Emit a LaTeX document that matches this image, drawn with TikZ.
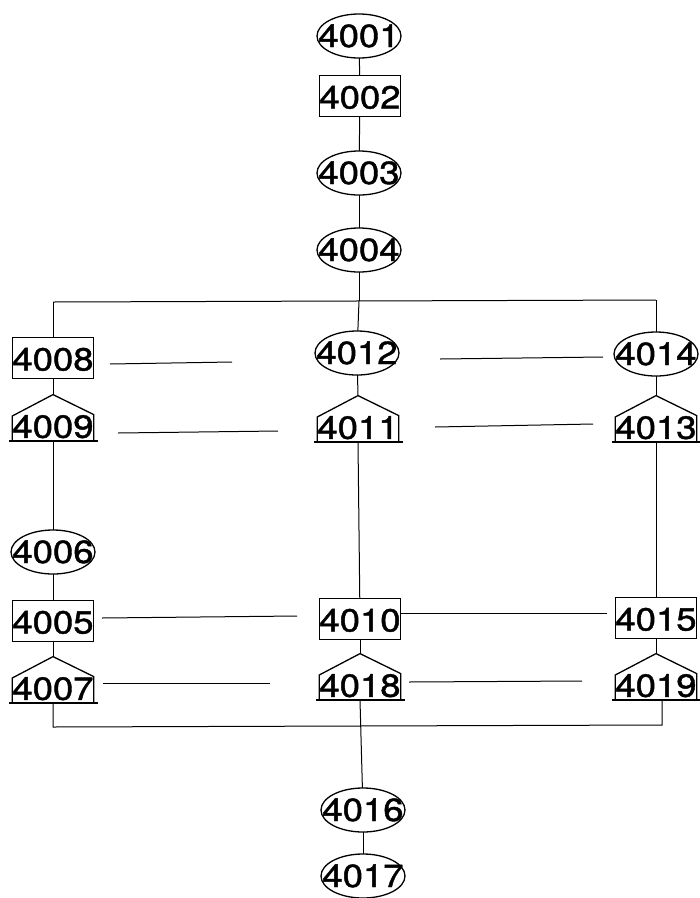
\documentclass[tikz,border=0pt]{standalone}
\usepackage{fontspec}
\setmainfont{TeX Gyre Heros}[FakeStretch=1.14,FakeBold=1.3]
\usetikzlibrary{calc}
\tikzset{
  every node/.style={font=\fontsize{32}{32}\selectfont, inner sep=0pt},
  ell/.style={rectangle, minimum width=84pt, text height=33pt, text depth=11pt},
  boxn/.style={draw, rectangle, line width=1.3pt, minimum width=81pt, text height=33pt, text depth=8pt},
  house/.style={rectangle, anchor=south, minimum width=81pt, text height=43pt, text depth=3pt},
  wire/.style={line width=1pt},
  outline/.style={line width=1.3pt},
}
\newcommand{\houseoutline}[1]{%
  \draw[outline] (#1.south west) -- ++(0pt,25pt) -- (#1.north) -- ($(#1.north east)+(0pt,-20pt)$) -- (#1.south east);
  \draw[outline] ($(#1.south west)+(-3pt,0pt)$) -- ($(#1.south east)+(4pt,0pt)$);
}
\newcommand{\ellipseoutline}[1]{%
  \draw[outline] (#1.center) ellipse [x radius=42pt, y radius=22pt];
}
\begin{document}
\begin{tikzpicture}[x=1pt,y=-1pt]
\useasboundingbox (0,0) rectangle (700,898);
% top chain
\node[ell] (n4001) at (359,36) {4001};
\node[boxn] (n4002) at (360,96) {4002};
\node[ell] (n4003) at (359,173) {4003};
\node[ell] (n4004) at (359,250) {4004};
% upper row
\node[boxn] (n4008) at (53,358) {4008};
\node[ell] (n4012) at (357,353) {4012};
\node[ell] (n4014) at (656,354) {4014};
\node[house] (n4009) at (53,441) {4009};
\node[house] (n4011) at (358,442) {4011};
\node[house] (n4013) at (656,442) {4013};
% middle
\node[ell] (n4006) at (53,552) {4006};
\node[boxn] (n4005) at (53,621) {4005};
\node[boxn] (n4010) at (360,619) {4010};
\node[boxn] (n4015) at (656,618) {4015};
\node[house] (n4007) at (53,703) {4007};
\node[house] (n4018) at (360,700) {4018};
\node[house] (n4019) at (656,700) {4019};
% bottom
\node[ell] (n4016) at (363,810) {4016};
\node[ell] (n4017) at (363,876) {4017};
\foreach \h in {n4009,n4011,n4013,n4007,n4018,n4019} {\houseoutline{\h}}
\foreach \e in {n4001,n4003,n4004,n4012,n4014,n4006,n4016,n4017} {\ellipseoutline{\e}}
% buses
\coordinate (bt) at (359,301);
\coordinate (btl) at (53,302);
\coordinate (btr) at (656,300);
\coordinate (bbl) at (53,727);
\coordinate (bbr) at (662,725);
% vertical connectors
\draw[wire] (n4001) -- (n4002);
\draw[wire] (n4002) -- (n4003);
\draw[wire] (n4003) -- (n4004);
\draw[wire] (n4004) -- (bt);
\draw[wire] (btl) -- (btr);
\draw[wire] (btl) -- (n4008);
\draw[wire] (bt) -- (n4012);
\draw[wire] (btr) -- (n4014);
\draw[wire] (n4008) -- (n4009.north);
\draw[wire] (n4012) -- (n4011.north);
\draw[wire] (n4014) -- (n4013.north);
\draw[wire] (n4009.south) -- (n4006);
\draw[wire] (n4011.south) -- (n4010);
\draw[wire] (n4013.south) -- (n4015);
\draw[wire] (n4006) -- (n4005);
\draw[wire] (n4005) -- (n4007.north);
\draw[wire] (n4010) -- (n4018.north);
\draw[wire] (n4015) -- (n4019.north);
\draw[wire] (n4007.south) -- (bbl) -- (bbr) -- (n4019.south -| bbr);
\draw[wire] (n4018.south) -- (n4016);
\draw[wire] (n4016) -- (n4017);
% horizontal free lines
\coordinate (h1a) at (110,364); \coordinate (h1b) at (232,362);
\coordinate (h2a) at (118,433); \coordinate (h2b) at (278,431);
\coordinate (h3a) at (440,359); \coordinate (h3b) at (603,357);
\coordinate (h4a) at (435,427); \coordinate (h4b) at (593,424);
\coordinate (h5a) at (102,618); \coordinate (h5b) at (297,616);
\coordinate (h6a) at (103,683); \coordinate (h6b) at (270,683);
\coordinate (h7b) at (607,613);
\coordinate (h8a) at (409,682); \coordinate (h8b) at (582,681);
\draw[wire] (h1a) -- (h1b);
\draw[wire] (h2a) -- (h2b);
\draw[wire] (h3a) -- (h3b);
\draw[wire] (h4a) -- (h4b);
\draw[wire] (h5a) -- (h5b);
\draw[wire] (h6a) -- (h6b);
\draw[wire] (n4010.east |- h7b) -- (h7b);
\draw[wire] (h8a) -- (h8b);
\end{tikzpicture}
\end{document}
